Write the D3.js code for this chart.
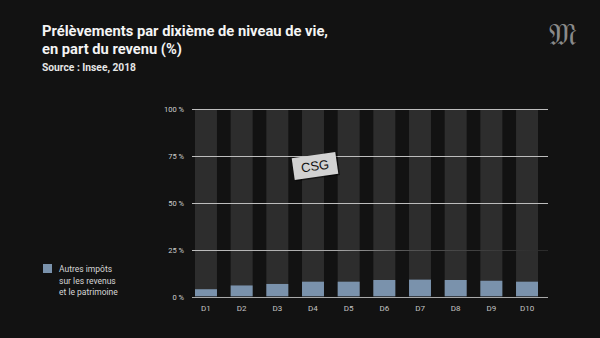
<!DOCTYPE html>
<html>
<head>
<meta charset="utf-8">
<script src="https://cdn.jsdelivr.net/npm/d3@7"></script>
<style>
  html, body { margin: 0; padding: 0; background: #121212; }
  svg { display: block; }
</style>
</head>
<body>
<svg id="chart" width="600" height="338"></svg>
<script>
// Deciles of living standard and the share of income taken
const deciles = ["D1", "D2", "D3", "D4", "D5", "D6", "D7", "D8", "D9", "D10"];
const otherTaxes = [4.3, 6.3, 7.1, 8.3, 8.3, 9.2, 9.4, 9.2, 8.8, 8.3];
const totalShare = [100, 100, 100, 100, 100, 100, 100, 100, 100, 100];
const yTicks = [0, 25, 50, 75, 100];
const yTickLabels = ["0 %", "25 %", "50 %", "75 %", "100 %"];

const svg = d3.select("#chart");
const font = "Roboto, 'Liberation Sans', Arial, sans-serif";

svg.append("rect").attr("width", 600).attr("height", 338).attr("fill", "#121212");

// Title block
const title = svg.append("g").attr("font-family", font).attr("fill", "#f4f4f4").attr("font-weight", 700);
title.append("text").attr("x", 42).attr("y", 36).attr("font-size", 15)
  .attr("textLength", 286).attr("lengthAdjust", "spacingAndGlyphs")
  .text("Prélèvements par dixième de niveau de vie,");
title.append("text").attr("x", 42).attr("y", 53.5).attr("font-size", 15)
  .attr("textLength", 140).attr("lengthAdjust", "spacingAndGlyphs")
  .text("en part du revenu (%)");
title.append("text").attr("x", 42).attr("y", 71).attr("font-size", 10)
  .attr("textLength", 94).attr("lengthAdjust", "spacingAndGlyphs")
  .attr("fill", "#e6e6e6")
  .text("Source : Insee, 2018");

// Masthead mark
svg.append("text").attr("x", 563).attr("y", 45).attr("text-anchor", "middle")
  .attr("font-family", "'DejaVu Serif', serif").attr("font-size", 30).attr("fill", "#8a8a8a")
  .text("𝔐");

// Scales
const x = d3.scaleBand().domain(deciles).range([195, 538]).paddingInner(0.384).paddingOuter(0);
const y = d3.scaleLinear().domain([0, 100]).range([297.3, 109.3]);

// Full-height bars
svg.append("g").selectAll("rect").data(deciles).join("rect")
  .attr("x", d => x(d)).attr("width", x.bandwidth())
  .attr("y", (d, i) => y(totalShare[i])).attr("height", (d, i) => y(0) - y(totalShare[i]) - 1)
  .attr("fill", "#2d2d2d");

// Other taxes on income and wealth
svg.append("g").selectAll("rect").data(deciles).join("rect")
  .attr("x", d => x(d)).attr("width", x.bandwidth())
  .attr("y", (d, i) => y(otherTaxes[i])).attr("height", (d, i) => y(0) - y(otherTaxes[i]) - 1)
  .attr("fill", "#7a92ac");

// Fading stroke for the 25 % line
const defs = svg.append("defs");
const grad = defs.append("linearGradient").attr("id", "fade25")
  .attr("gradientUnits", "userSpaceOnUse").attr("x1", 192).attr("x2", 548).attr("y1", 0).attr("y2", 0);
grad.append("stop").attr("offset", 0).attr("stop-color", "#bdbdbd");
grad.append("stop").attr("offset", 0.4).attr("stop-color", "#a8a8a8");
grad.append("stop").attr("offset", 0.6).attr("stop-color", "#555");
grad.append("stop").attr("offset", 1).attr("stop-color", "#2a2a2a");

// Gridlines and labels via a left axis
const yAxis = d3.axisLeft(y).tickValues(yTicks)
  .tickFormat((d, i) => yTickLabels[i]).tickSize(0).tickPadding(0);
const yg = svg.append("g").attr("transform", "translate(184,0)").call(yAxis);
yg.select(".domain").remove();
yg.selectAll("text").attr("font-family", font).attr("font-size", 7.5).attr("fill", "#cfcfcf").attr("dy", "0.32em");
svg.append("g").selectAll("line").data(yTicks.filter(d => d > 0)).join("line")
  .attr("x1", 192).attr("x2", 548)
  .attr("y1", d => Math.round(y(d)) + 0.5).attr("y2", d => Math.round(y(d)) + 0.5)
  .attr("stroke", d => d === 25 ? "url(#fade25)" : "#bdbdbd").attr("stroke-width", 1);

// Baseline and decile labels
const xAxis = d3.axisBottom(x).tickSize(0).tickPadding(8);
const xg = svg.append("g").attr("transform", `translate(0,${Math.round(y(0))})`).call(xAxis);
xg.select(".domain").attr("d", "M192,0.5H548").attr("stroke", "#a9a9a9");
xg.selectAll("text").attr("font-family", font).attr("font-size", 8).attr("fill", "#c4c4c4");

// Legend
const legend = svg.append("g").attr("font-family", font).attr("font-size", 8.5).attr("fill", "#d6d6d6");
legend.append("rect").attr("x", 43).attr("y", 264).attr("width", 9).attr("height", 9).attr("fill", "#7a92ac");
["Autres impôts", "sur les revenus", "et le patrimoine"].forEach((t, i) => {
  legend.append("text").attr("x", 59).attr("y", 272 + i * 11.7).text(t);
});

// CSG tag
const tag = svg.append("g").attr("transform", "translate(315,166) rotate(-8)");
tag.append("rect").attr("x", -22).attr("y", -11).attr("width", 44).attr("height", 22)
  .attr("fill", "#000").attr("opacity", 0.5).attr("transform", "translate(1.5,1.5)");
tag.append("rect").attr("x", -22).attr("y", -11).attr("width", 44).attr("height", 22)
  .attr("fill", "#d2d2d2");
tag.append("text").attr("x", 0).attr("y", 4.5).attr("text-anchor", "middle")
  .attr("font-family", "'Liberation Sans', Arial, sans-serif").attr("font-size", 13)
  .attr("fill", "#111").text("CSG");
</script>
</body>
</html>
